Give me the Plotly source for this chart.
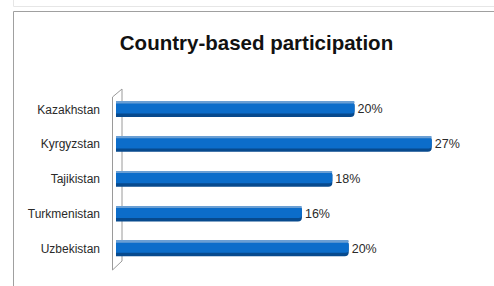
import plotly.graph_objects as go

countries = ["Kazakhstan", "Kyrgyzstan", "Tajikistan", "Turkmenistan", "Uzbekistan"]
shares = [20.4, 27.0, 18.5, 15.9, 19.9]
labels = ["20%", "27%", "18%", "16%", "20%"]
title_text = "Country-based participation"

W, H = 494, 286
L, R, T, B = 116, 19, 92, 20
PW, PH = W - L - R, H - T - B

def px(x):
    return (x - L) / PW

def py(y):
    return (H - B - y) / PH

FONT = "Liberation Sans, Arial, sans-serif"

fig = go.Figure()
fig.add_trace(go.Bar(
    y=countries, x=shares, orientation="h", width=0.44, offset=-0.22,
    marker=dict(color="#074a8e", line=dict(width=0), cornerradius=4),
    text=labels, textposition="outside", cliponaxis=False,
    textfont=dict(family=FONT, size=12.5, color="#2a2a2a"),
    hoverinfo="skip",
))
fig.add_trace(go.Bar(
    y=countries, x=shares, orientation="h", width=0.32, offset=-0.20,
    marker=dict(color="#0c6dca", line=dict(width=0), cornerradius=3),
    hoverinfo="skip",
))
fig.add_trace(go.Bar(
    y=countries, x=shares, orientation="h", width=0.05, offset=-0.22,
    marker=dict(color="#6a9fd4", line=dict(width=0), cornerradius=1),
    hoverinfo="skip",
))

shapes = [
    # light top strip
    dict(type="rect", xref="paper", yref="paper", x0=px(13.5), x1=px(520), y0=py(6.5), y1=py(-5),
         line=dict(color="#e6e6e6", width=1), fillcolor="#ffffff", layer="below"),
    # main frame
    dict(type="rect", xref="paper", yref="paper", x0=px(13.5), x1=px(520), y0=py(300), y1=py(11.5),
         line=dict(color="#a0a0a0", width=1), fillcolor="rgba(0,0,0,0)", layer="below"),
    # 3D wall
    dict(type="path", xref="paper", yref="paper",
         path=f"M {px(112.5)} {py(97)} L {px(122)} {py(89)} L {px(122)} {py(261)} L {px(112.5)} {py(270)} Z",
         line=dict(color="#9a9a9a", width=1), fillcolor="#ffffff", layer="below"),
]

fig.update_layout(
    width=W, height=H, margin=dict(l=L, r=R, t=T, b=B, autoexpand=False),
    barmode="overlay", showlegend=False,
    paper_bgcolor="white", plot_bgcolor="rgba(0,0,0,0)",
    title=dict(text=f"<b>{title_text}</b>", x=256.5 / W, xref="container", xanchor="center",
               y=1 - 43 / H, yref="container", yanchor="middle",
               font=dict(family=FONT, size=20.5, color="#111111")),
    xaxis=dict(range=[0, 30.7], visible=False),
    yaxis=dict(range=[4.5, -0.5], showgrid=False, zeroline=False, showline=False,
               ticks="", ticklabelstandoff=15, automargin=False,
               tickfont=dict(family=FONT, size=12, color="#2a2a2a")),
    shapes=shapes,
)

fig.write_html("out.html", config={"displayModeBar": False},
               post_script="document.body.style.margin='0';document.body.style.overflow='hidden';")
